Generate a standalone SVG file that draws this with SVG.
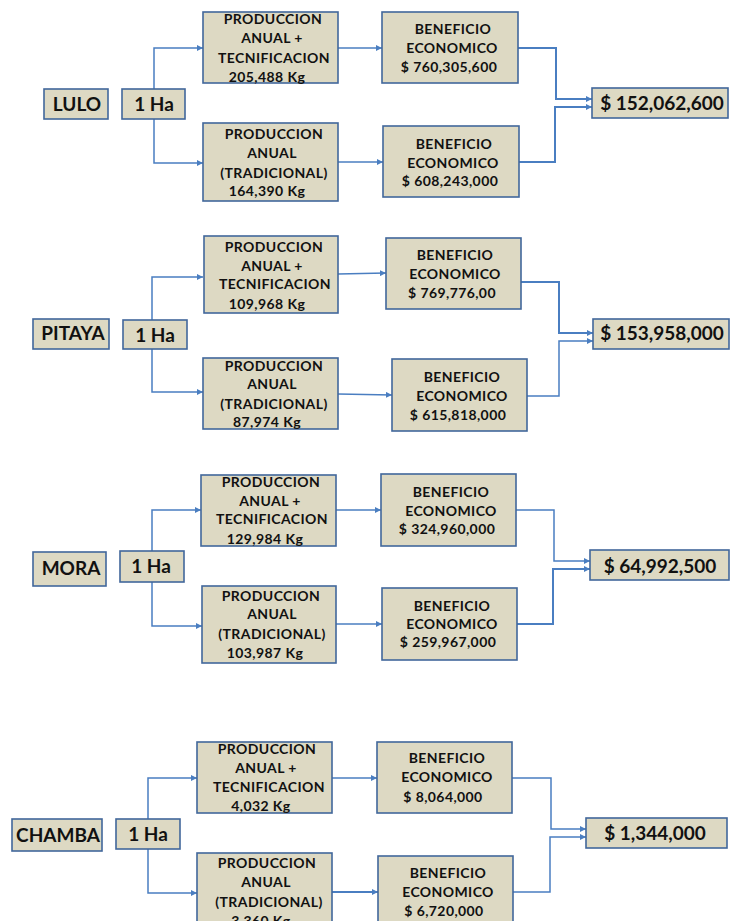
<svg xmlns="http://www.w3.org/2000/svg" width="731" height="921" viewBox="0 0 731 921">
<defs>
<style>
.b{fill:#DDD9C3;stroke:#41679B;stroke-width:1.6}
.t{font-family:Lato,"Liberation Sans",sans-serif;font-weight:bold;font-size:14px;fill:#111;text-anchor:middle;letter-spacing:0.4px}
.L{font-family:Lato,"Liberation Sans",sans-serif;font-weight:bold;font-size:19px;fill:#111;text-anchor:middle}
.T{font-family:Lato,"Liberation Sans",sans-serif;font-weight:bold;font-size:19px;fill:#111;text-anchor:middle}
.c{fill:none;stroke:#4A7EC1;stroke-width:1.5}
.c2{fill:none;stroke:#4A7EC1;stroke-width:2}
</style>
<marker id="a" viewBox="0 0 10 10" refX="10" refY="5" markerWidth="6" markerHeight="6" markerUnits="userSpaceOnUse" orient="auto">
<path d="M0,0 L10,5 L0,10 z" fill="#4A7EC1"/>
</marker>
</defs>
<rect width="731" height="921" fill="#fff"/>

<g id="connectors">
<!-- LULO -->
<path class="c" d="M154,89 V48 H203" marker-end="url(#a)"/>
<path class="c" d="M154,119 V163 H203" marker-end="url(#a)"/>
<path class="c" d="M338,48 H382" marker-end="url(#a)"/>
<path class="c" d="M338,162 H383" marker-end="url(#a)"/>
<path class="c2" d="M518,48 H556 V99 H592" marker-end="url(#a)"/>
<path class="c2" d="M519,162 H555 V107 H592" marker-end="url(#a)"/>
<!-- PITAYA -->
<path class="c" d="M152,320 V277 H203" marker-end="url(#a)"/>
<path class="c" d="M152,349 V392 H203" marker-end="url(#a)"/>
<path class="c" d="M338,274 L386,273" marker-end="url(#a)"/>
<path class="c" d="M338,394 L392,395" marker-end="url(#a)"/>
<path class="c2" d="M521,282 H559 V333 H593" marker-end="url(#a)"/>
<path class="c" d="M522,396 H559 V341 H593" marker-end="url(#a)"/>
<!-- MORA -->
<path class="c" d="M152,551 V510 H201" marker-end="url(#a)"/>
<path class="c" d="M152,582 V626 H202" marker-end="url(#a)"/>
<path class="c" d="M336,510 H381" marker-end="url(#a)"/>
<path class="c" d="M336,624 H382" marker-end="url(#a)"/>
<path class="c" d="M516,510 H554 V561 H590" marker-end="url(#a)"/>
<path class="c2" d="M517,624 H553 V569 H590" marker-end="url(#a)"/>
<!-- CHAMBA -->
<path class="c" d="M148,819 V778 H197" marker-end="url(#a)"/>
<path class="c" d="M148,849 V893 H197" marker-end="url(#a)"/>
<path class="c" d="M332,778 H377" marker-end="url(#a)"/>
<path class="c2" d="M332,892 H378" marker-end="url(#a)"/>
<path class="c" d="M512,778 H551 V829 H586" marker-end="url(#a)"/>
<path class="c" d="M513,892 H550 V837 H586" marker-end="url(#a)"/>
</g>

<!-- LULO -->
<g id="lulo"><rect class="b" x="44" y="89" width="64" height="30"/><text class="L" x="77" y="111">LULO</text></g>
<g id="lulo-ha"><rect class="b" x="122" y="89" width="63" height="30"/><text class="L" x="154" y="111">1 Ha</text></g>
<g id="lulo-prod-tec"><rect class="b" x="203" y="12" width="135" height="71"/>
<text class="t" x="273" y="24">PRODUCCION</text><text class="t" x="272" y="43">ANUAL +</text><text class="t" x="274" y="63">TECNIFICACION</text><text class="t" x="267" y="82">205,488 Kg</text></g>
<g id="lulo-prod-trad"><rect class="b" x="203" y="123" width="135" height="78"/>
<text class="t" x="274" y="139">PRODUCCION</text><text class="t" x="272" y="158">ANUAL</text><text class="t" x="274" y="178">(TRADICIONAL)</text><text class="t" x="267" y="196">164,390 Kg</text></g>
<g id="lulo-ben-tec"><rect class="b" x="382" y="12" width="136" height="71"/>
<text class="t" x="453" y="34">BENEFICIO</text><text class="t" x="452" y="53">ECONOMICO</text><text class="t" x="449" y="72">$ 760,305,600</text></g>
<g id="lulo-ben-trad"><rect class="b" x="383" y="126" width="136" height="71"/>
<text class="t" x="454" y="149">BENEFICIO</text><text class="t" x="453" y="168">ECONOMICO</text><text class="t" x="450" y="186">$ 608,243,000</text></g>
<g id="lulo-total"><rect class="b" x="592" y="88" width="136" height="30"/><text class="T" x="662" y="110">$ 152,062,600</text></g>

<!-- PITAYA -->
<g id="pitaya"><rect class="b" x="33" y="319" width="76" height="30"/><text class="L" x="73" y="340">PITAYA</text></g>
<g id="pitaya-ha"><rect class="b" x="123" y="320" width="64" height="29"/><text class="L" x="155" y="342">1 Ha</text></g>
<g id="pitaya-prod-tec"><rect class="b" x="204" y="236" width="134" height="77"/>
<text class="t" x="274" y="252">PRODUCCION</text><text class="t" x="272" y="271">ANUAL  +</text><text class="t" x="275" y="289">TECNIFICACION</text><text class="t" x="267" y="309">109,968 Kg</text></g>
<g id="pitaya-prod-trad"><rect class="b" x="203" y="358" width="135" height="71"/>
<text class="t" x="274" y="371">PRODUCCION</text><text class="t" x="272" y="389">ANUAL</text><text class="t" x="274" y="409">(TRADICIONAL)</text><text class="t" x="267" y="427">87,974 Kg</text></g>
<g id="pitaya-ben-tec"><rect class="b" x="386" y="238" width="135" height="71"/>
<text class="t" x="455" y="260">BENEFICIO</text><text class="t" x="455" y="279">ECONOMICO</text><text class="t" x="452" y="298">$ 769,776,00</text></g>
<g id="pitaya-ben-trad"><rect class="b" x="392" y="359" width="135" height="72"/>
<text class="t" x="462" y="382">BENEFICIO</text><text class="t" x="462" y="401">ECONOMICO</text><text class="t" x="458" y="420">$ 615,818,000</text></g>
<g id="pitaya-total"><rect class="b" x="593" y="319" width="136" height="30"/><text class="T" x="662" y="340">$ 153,958,000</text></g>

<!-- MORA -->
<g id="mora"><rect class="b" x="33" y="552" width="73" height="34"/><text class="L" x="71" y="575">MORA</text></g>
<g id="mora-ha"><rect class="b" x="120" y="551" width="64" height="31"/><text class="L" x="151" y="573">1 Ha</text></g>
<g id="mora-prod-tec"><rect class="b" x="201" y="475" width="135" height="71"/>
<text class="t" x="271" y="487">PRODUCCION</text><text class="t" x="270" y="506">ANUAL +</text><text class="t" x="272" y="524">TECNIFICACION</text><text class="t" x="265" y="544">129,984 Kg</text></g>
<g id="mora-prod-trad"><rect class="b" x="202" y="586" width="134" height="77"/>
<text class="t" x="271" y="601">PRODUCCION</text><text class="t" x="272" y="619">ANUAL</text><text class="t" x="272" y="639">(TRADICIONAL)</text><text class="t" x="265" y="658">103,987 Kg</text></g>
<g id="mora-ben-tec"><rect class="b" x="381" y="474" width="135" height="72"/>
<text class="t" x="451" y="497">BENEFICIO</text><text class="t" x="451" y="516">ECONOMICO</text><text class="t" x="447" y="534">$ 324,960,000</text></g>
<g id="mora-ben-trad"><rect class="b" x="382" y="588" width="135" height="72"/>
<text class="t" x="452" y="611">BENEFICIO</text><text class="t" x="452" y="629">ECONOMICO</text><text class="t" x="448" y="647">$ 259,967,000</text></g>
<g id="mora-total"><rect class="b" x="590" y="550" width="139" height="30"/><text class="T" x="660" y="573">$ 64,992,500</text></g>

<!-- CHAMBA -->
<g id="chamba"><rect class="b" x="12" y="819" width="90" height="32"/><text class="L" x="58" y="842">CHAMBA</text></g>
<g id="chamba-ha"><rect class="b" x="116" y="819" width="64" height="30"/><text class="L" x="148" y="841">1 Ha</text></g>
<g id="chamba-prod-tec"><rect class="b" x="197" y="742" width="135" height="71"/>
<text class="t" x="267" y="754">PRODUCCION</text><text class="t" x="266" y="773">ANUAL +</text><text class="t" x="269" y="792">TECNIFICACION</text><text class="t" x="261" y="811">4,032 Kg</text></g>
<g id="chamba-prod-trad"><rect class="b" x="197" y="853" width="135" height="80"/>
<text class="t" x="267" y="868">PRODUCCION</text><text class="t" x="266" y="887">ANUAL</text><text class="t" x="269" y="907">(TRADICIONAL)</text><text class="t" x="261" y="926">3,360 Kg</text></g>
<g id="chamba-ben-tec"><rect class="b" x="377" y="742" width="135" height="71"/>
<text class="t" x="447" y="763">BENEFICIO</text><text class="t" x="447" y="782">ECONOMICO</text><text class="t" x="443" y="802">$ 8,064,000</text></g>
<g id="chamba-ben-trad"><rect class="b" x="378" y="856" width="135" height="75"/>
<text class="t" x="448" y="878">BENEFICIO</text><text class="t" x="448" y="897">ECONOMICO</text><text class="t" x="444" y="916">$ 6,720,000</text></g>
<g id="chamba-total"><rect class="b" x="586" y="818" width="141" height="30"/><text class="T" x="655" y="840">$ 1,344,000</text></g>
</svg>
